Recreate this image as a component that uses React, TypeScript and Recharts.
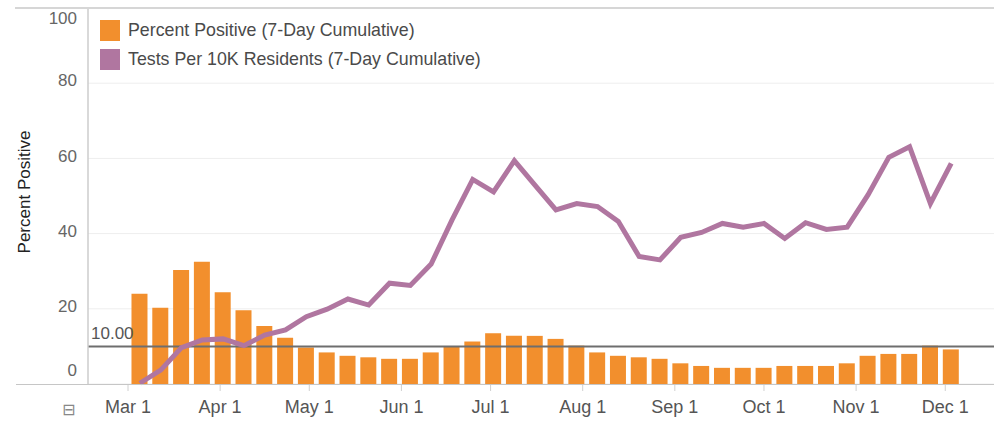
import React from 'react';
import { ComposedChart, Bar, Line, XAxis, YAxis, CartesianGrid, ReferenceLine, Legend } from 'recharts';

// Weekly categories (2020)
const weekDates = [
  '03-05', '03-12', '03-19', '03-26', '04-02', '04-09', '04-16', '04-23', '04-30',
  '05-07', '05-14', '05-21', '05-28', '06-04', '06-11', '06-18', '06-25',
  '07-02', '07-09', '07-16', '07-23', '07-30', '08-06', '08-13', '08-20', '08-27',
  '09-03', '09-10', '09-17', '09-24', '10-01', '10-08', '10-15', '10-22', '10-29',
  '11-05', '11-12', '11-19', '11-26', '12-03',
];

const percentPositive = [
  24, 20.3, 30.3, 32.5, 24.4, 19.6, 15.4, 12.3, 9.7, 8.4,
  7.5, 7.1, 6.7, 6.7, 8.4, 9.9, 11.3, 13.5, 12.8, 12.8,
  12.0, 10.2, 8.4, 7.5, 7.1, 6.7, 5.5, 4.8, 4.3, 4.3,
  4.3, 4.8, 4.8, 4.8, 5.5, 7.5, 8.0, 8.0, 10.2, 9.2,
];

const testsPer10K = [
  0.2, 3.7, 9.7, 11.7, 12.0, 10.2, 13.0, 14.4, 17.9, 19.9,
  22.6, 21.0, 26.8, 26.2, 31.9, 43.6, 54.4, 51.1, 59.4, 52.8,
  46.3, 48.0, 47.2, 43.2, 33.9, 33.0, 39.0, 40.3, 42.7, 41.7,
  42.7, 38.7, 42.9, 41.1, 41.7, 50.3, 60.3, 63.1, 48.0, 58.7,
];

const xTickDates = ['03-01', '04-01', '05-01', '06-01', '07-01', '08-01', '09-01', '10-01', '11-01', '12-01'];
const xTickLabels = ['Mar 1', 'Apr 1', 'May 1', 'Jun 1', 'Jul 1', 'Aug 1', 'Sep 1', 'Oct 1', 'Nov 1', 'Dec 1'];
const yTicks = [0, 20, 40, 60, 80, 100];
const thresholdValue = 10;

const BAR_COLOR = '#f28f2d';
const LINE_COLOR = '#b076a0';
const FONT = '"Liberation Sans", Arial, sans-serif';

// days since Mar 1, 2020
const dayOf = (md: string) => {
  const [m, d] = md.split('-').map(Number);
  const t = Date.UTC(2020, m - 1, d);
  const t0 = Date.UTC(2020, 2, 1);
  return Math.round((t - t0) / 86400000);
};

const data = weekDates.map((d, i) => ({
  day: dayOf(d),
  pp: percentPositive[i],
  tests: testsPer10K[i],
}));

const xTicks = xTickDates.map(dayOf);
const tickLabelMap: Record<number, string> = {};
xTicks.forEach((t, i) => { tickLabelMap[t] = xTickLabels[i]; });

const YTick = (props: any) => {
  const { y, payload } = props;
  let cy = y - 3;
  if (payload.value === 0) cy = 370;
  if (payload.value === 100) cy = 17.5;
  return (
    <text x={77} y={cy} dy="0.36em" textAnchor="end" fill="#666" fontSize={17} fontFamily={FONT}>
      {payload.value}
    </text>
  );
};

const XTick = (props: any) => {
  const { x, payload } = props;
  return (
    <text x={x} y={413} textAnchor="middle" fill="#555" fontSize={18} fontFamily={FONT}>
      {tickLabelMap[payload.value]}
    </text>
  );
};

const legendItems = [
  { label: 'Percent Positive (7-Day Cumulative)', color: BAR_COLOR },
  { label: 'Tests Per 10K Residents (7-Day Cumulative)', color: LINE_COLOR },
];

const LegendContent = () => (
  <div style={{ fontFamily: FONT, fontSize: 17.8, color: '#4a4a4a' }}>
    {legendItems.map((it) => (
      <div key={it.label} style={{ display: 'flex', alignItems: 'center', height: 29 }}>
        <div style={{ width: 20, height: 21, background: it.color, marginRight: 8 }} />
        <span>{it.label}</span>
      </div>
    ))}
  </div>
);

export default function App() {
  return (
    <div style={{ position: 'absolute', left: 0, top: 0, width: 994, height: 421, background: '#fff', overflow: 'hidden' }}>
      <ComposedChart
        width={994}
        height={421}
        data={data}
        margin={{ top: 8, right: 0, left: 0, bottom: 0 }}
      >
        <CartesianGrid vertical={false} stroke="#eeeeee" strokeWidth={1} />
        <XAxis
          type="number"
          dataKey="day"
          domain={[-13.46, 291.4]}
          ticks={xTicks}
          tick={<XTick />}
          axisLine={false}
          tickLine={{ stroke: '#d0d0d0' }}
          tickSize={7}
          height={37}
          allowDataOverflow
        />
        <YAxis
          domain={[0, 100]}
          ticks={yTicks}
          tick={<YTick />}
          width={88}
          axisLine={{ stroke: '#cccccc', strokeWidth: 1.5 }}
          tickLine={false}
          label={() => (
            <text
              x={30}
              y={192}
              transform="rotate(-90 30 192)"
              textAnchor="middle"
              fill="#222"
              fontSize={17}
              fontFamily={FONT}
            >
              Percent Positive
            </text>
          )}
        />
        <Legend
          verticalAlign="middle"
          align="center"
          layout="vertical"
          content={<LegendContent />}
          wrapperStyle={{ position: 'absolute', left: 100, top: 16, width: 480, height: 60 }}
        />
        <Bar dataKey="pp" fill={BAR_COLOR} barSize={16} isAnimationActive={false} />
        <ReferenceLine
          y={thresholdValue}
          stroke="#6e6e6e"
          strokeWidth={2}
          label={(p: any) => (
            <text x={91} y={p.viewBox.y - 7} fill="#555" fontSize={17} fontFamily={FONT}>
              10.00
            </text>
          )}
        />
        <Line
          type="linear"
          dataKey="tests"
          stroke={LINE_COLOR}
          strokeWidth={5}
          dot={false}
          activeDot={false}
          isAnimationActive={false}
        />
      </ComposedChart>
      <div style={{ position: 'absolute', left: 15, top: 7, width: 979, height: 1.5, background: '#d6d6d6' }} />
      <div style={{ position: 'absolute', left: 16, top: 383.5, width: 978, height: 1.5, background: '#c6c6c6' }} />
      <span style={{ position: 'absolute', left: 62, top: 400, fontFamily: '"DejaVu Sans", sans-serif', fontSize: 16, color: '#888', lineHeight: '20px' }}>⊟</span>
    </div>
  );
}
